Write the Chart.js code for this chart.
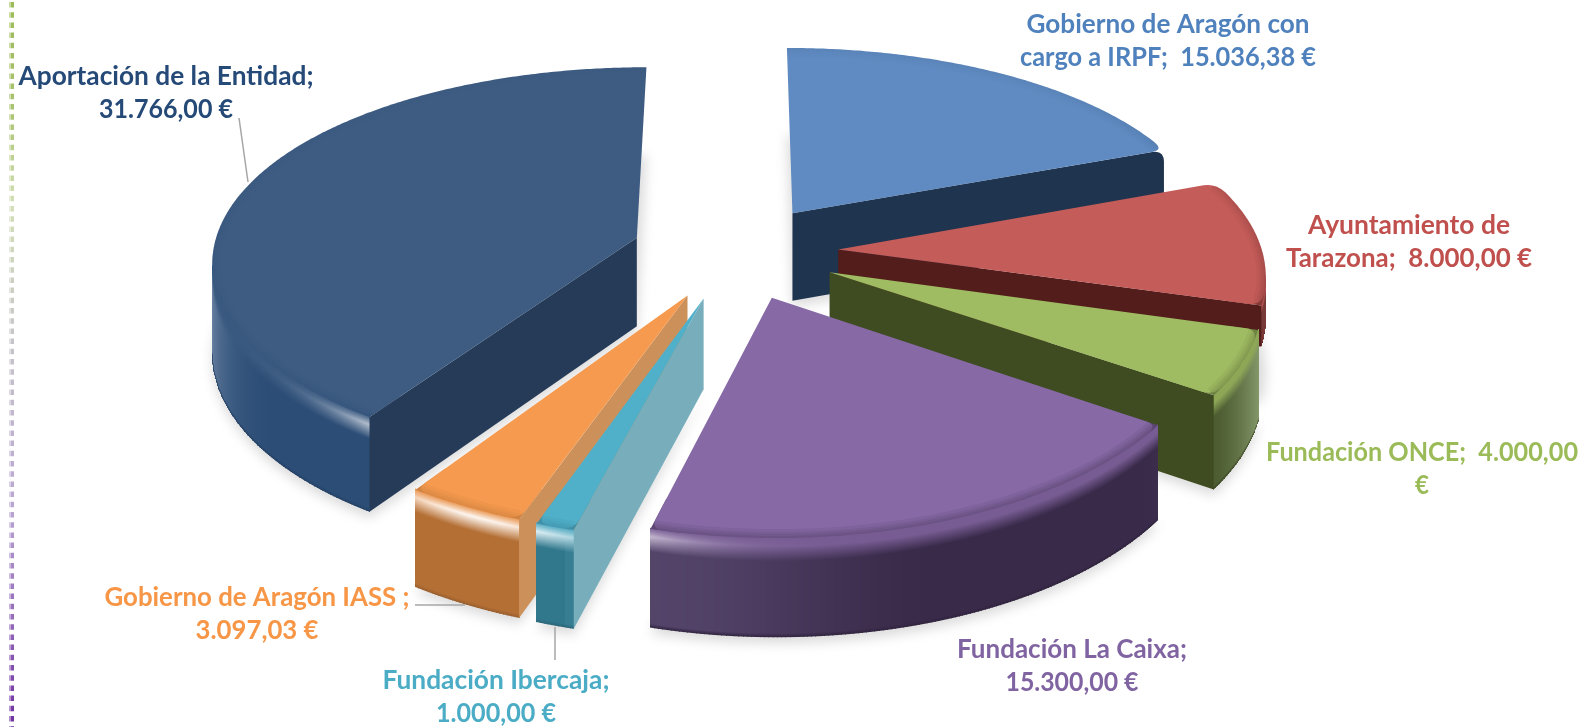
<!DOCTYPE html>
<html>
<head>
<meta charset="utf-8">
<title>Financiación</title>
<script src="https://cdn.jsdelivr.net/npm/chart.js@4"></script>
<style>
  html, body { margin: 0; padding: 0; background: #fff; }
  canvas { display: block; }
</style>
</head>
<body>
<canvas id="myChart" width="1584" height="727"></canvas>
<script>
const categories = ['Gobierno de Aragón con cargo a IRPF', 'Ayuntamiento de Tarazona', 'Fundación ONCE', 'Fundación La Caixa', 'Fundación Ibercaja', 'Gobierno de Aragón IASS', 'Aportación de la Entidad'];
const values = [15036.38, 8000, 4000, 15300, 1000, 3097.03, 31766];
const labelLines = [
  ['Gobierno de Aragón con', 'cargo a IRPF;  15.036,38 €'],
  ['Ayuntamiento de', 'Tarazona;  8.000,00 €'],
  ['Fundación ONCE;  4.000,00', '€'],
  ['Fundación La Caixa;', '15.300,00 €'],
  ['Fundación Ibercaja;', '1.000,00 €'],
  ['Gobierno de Aragón IASS ;', '3.097,03 €'],
  ['Aportación de la Entidad;', '31.766,00 €']
];

// colours per slice
const labelColors = ['#4f81bd', '#c0504d', '#9bbb59', '#8064a2', '#4bacc6', '#f79646', '#254a77'];
const topColors = ['#5f8bc2', '#c45c59', '#a0bc62', '#8669a5', '#50b0ca', '#f59a4e', '#3e5c82'];
const wallColors = ['#1f344f', '#531d1b', '#46552a', '#392a49', '#32788d', '#b46f35', '#2c4d76'];
const wallEdgeColors = ['#1f344f', '#7a3a38', '#8a9e70', '#5a4a72', '#3a8095', '#bd7a3c', '#7d93af'];
const cutColors = ['#1f344f', '#531d1b', '#3f4c21', '#3a2b4b', '#78aebc', '#cc915a', '#263b58'];

// layout
const labelBoxes = [
  { x: 1168, y: 33, widths: [283, 296] },
  { x: 1409, y: 234, widths: [202, 246] },
  { x: 1422, y: 461, widths: [312, 14] },
  { x: 1072, y: 658, widths: [230, 133] },
  { x: 496, y: 689, widths: [227, 120] },
  { x: 257, y: 606, widths: [305, 123] },
  { x: 166, y: 85, widths: [295, 134] }
];
const leaders = [[239, 118, 248, 182], [415, 605, 465, 605], [555, 627, 555, 660]];
const drawOrder = [0, 6, 1, 2, 3, 5, 4];
const depthShare = [1, 0.45, 1, 1, 1, 1, 1];
const view = { cx: 735, cy: 251.5, rx: 424, ry: 196, k: 0.13, depth: 89, corner: 12 };

function project(u, v) {
  const w = 1 / (1 - view.k * v);
  return {
    x: view.cx + view.rx * u * Math.pow(w, 0.85),
    y: view.cy + view.ry * v * w,
    d: view.depth * (1 + (w - 1) * 0.6)
  };
}

function rgbOf(c) {
  const p = parseInt(c.slice(1), 16);
  return [p >> 16, (p >> 8) & 255, p & 255];
}

function mix(a, b, t) {
  const pa = rgbOf(a), pb = rgbOf(b);
  return '#' + pa.map((v, n) => Math.round(v + (pb[n] - v) * t).toString(16).padStart(2, '0')).join('');
}

function smooth(t) {
  const x = Math.min(1, Math.max(0, t));
  return x * x * (3 - 2 * x);
}

function dist(a, b) {
  return Math.hypot(a.x - b.x, a.y - b.y);
}

function towards(from, to, len) {
  const t = len / dist(from, to);
  return { x: from.x + (to.x - from.x) * t, y: from.y + (to.y - from.y) * t };
}

// the 12 o'clock cut stays sharp in the picture
function isNorth(p) {
  return Math.abs(Math.sin(p.angle) + 1) < 0.0001;
}

// geometry of one slice, read from the arc element chart.js laid out
function sliceShape(arc) {
  const e = arc.options.offset / arc.outerRadius;
  const mid = (arc.startAngle + arc.endAngle) / 2;
  const ou = Math.cos(mid) * e, ov = Math.sin(mid) * e;
  const steps = Math.max(8, Math.ceil((arc.endAngle - arc.startAngle) * 360 / Math.PI));
  const rim = [];
  let len = 0;
  for (let i = 0; i <= steps; i++) {
    const a = arc.startAngle + (arc.endAngle - arc.startAngle) * i / steps;
    const p = project(ou + Math.cos(a), ov + Math.sin(a));
    p.angle = a;
    if (i > 0) len += dist(p, rim[i - 1]);
    rim.push(p);
  }
  const last = rim.length - 1;
  return {
    apex: project(ou, ov),
    rim: rim,
    inner: rim[Math.floor(steps / 2)],
    corner: Math.min(view.corner, len / 3),
    // does the wall reach this end of the rim
    startFront: rim[1].x < rim[0].x,
    endFront: rim[last].x < rim[last - 1].x
  };
}

function traceFull(ctx, shape) {
  ctx.beginPath();
  ctx.moveTo(shape.apex.x, shape.apex.y);
  shape.rim.forEach(p => ctx.lineTo(p.x, p.y));
  ctx.closePath();
}

function traceTop(ctx, shape) {
  const rim = shape.rim, r = shape.corner, last = rim.length - 1;
  let from = 0, to = last;
  ctx.beginPath();
  ctx.moveTo(shape.apex.x, shape.apex.y);
  if (isNorth(rim[0])) {
    ctx.lineTo(rim[0].x, rim[0].y);
  } else {
    const e1 = towards(rim[0], shape.apex, r);
    while (dist(rim[from], rim[0]) < r) from++;
    ctx.lineTo(e1.x, e1.y);
    ctx.quadraticCurveTo(rim[0].x, rim[0].y, rim[from].x, rim[from].y);
  }
  if (!isNorth(rim[last])) {
    while (dist(rim[to], rim[last]) < r) to--;
  }
  for (let n = from + 1; n <= to; n++) ctx.lineTo(rim[n].x, rim[n].y);
  if (!isNorth(rim[last])) {
    const e2 = towards(rim[last], shape.apex, r);
    ctx.quadraticCurveTo(rim[last].x, rim[last].y, e2.x, e2.y);
  }
  ctx.closePath();
}

function drawShadow(ctx, shape) {
  ctx.save();
  ctx.filter = 'blur(6px)';
  ctx.fillStyle = 'rgba(0,0,0,0.14)';
  ctx.translate(0, 6);
  ctx.beginPath();
  ctx.moveTo(shape.apex.x, shape.apex.y + shape.apex.d);
  shape.rim.forEach(p => ctx.lineTo(p.x, p.y + p.d));
  ctx.closePath();
  ctx.fill();
  ctx.restore();
}

// one pixel column at a time, the rim runs right to left at the front
function drawWall(ctx, shape, i) {
  for (let s = 0; s < shape.rim.length - 1; s++) {
    const a = shape.rim[s], b = shape.rim[s + 1];
    if (b.x >= a.x) continue;
    for (let x = Math.floor(a.x); x >= Math.ceil(b.x) - 1; x--) {
      const t = Math.min(1, Math.max(0, (a.x - x - 0.5) / (a.x - b.x)));
      const y = a.y + (b.y - a.y) * t;
      const d = (a.d + (b.d - a.d) * t) * depthShare[i];
      const deg = ((a.angle + (b.angle - a.angle) * t + Math.PI / 2) * 180 / Math.PI + 360) % 360;
      // walls get lighter towards the sides, the shine sits front left
      let side = Math.max(smooth((deg - 232) / 45), smooth((130 - deg) / 30));
      if (deg < 196) side = Math.max(side, smooth((deg - 160) / 35) * 0.8);
      const shine = Math.exp(-Math.pow((deg - 205) / 14, 2));
      const wall = mix(wallColors[i], wallEdgeColors[i], side);
      const bevel = mix(topColors[i], wallColors[i], 0.2);
      const g = ctx.createLinearGradient(0, y - 1, 0, y + d);
      g.addColorStop(0, mix(topColors[i], wallColors[i], 0.2));
      g.addColorStop(0.09, mix(bevel, '#ffffff', shine * 0.92));
      g.addColorStop(0.24, wall);
      g.addColorStop(0.96, wall);
      g.addColorStop(1, mix(wallColors[i], '#000000', 0.15));
      ctx.fillStyle = g;
      ctx.fillRect(x, y - 1, 1, d + 1);
    }
  }
}

function drawCut(ctx, shape, end, front, i) {
  const apex = shape.apex;
  const ex = end.x - apex.x, ey = end.y - apex.y;
  const side = ex * (shape.inner.y - apex.y) - ey * (shape.inner.x - apex.x);
  // only the faces turned to the viewer, the nearly upright ones do not show
  if (ex * side >= 0 || Math.abs(ex) < 0.2 * Math.abs(ey)) return;
  const r = shape.corner;
  const e1 = towards(end, apex, r);
  ctx.fillStyle = cutColors[i];
  ctx.beginPath();
  ctx.moveTo(apex.x, apex.y);
  if (front) {
    ctx.lineTo(end.x, end.y);
  } else {
    ctx.lineTo(e1.x, e1.y);
    ctx.quadraticCurveTo(end.x, end.y, end.x, end.y + r);
  }
  ctx.lineTo(end.x, end.y + end.d * depthShare[i]);
  ctx.lineTo(apex.x, apex.y + apex.d);
  ctx.closePath();
  ctx.fill();
}

function drawTop(ctx, shape, i) {
  ctx.save();
  // corners over a wall show the bevel, not the page
  if (shape.startFront || shape.endFront) {
    ctx.save();
    ctx.beginPath();
    if (shape.startFront) ctx.rect(shape.rim[0].x - 30, shape.rim[0].y - 30, 60, 60);
    if (shape.endFront) ctx.rect(shape.rim[shape.rim.length - 1].x - 30, shape.rim[shape.rim.length - 1].y - 30, 60, 60);
    ctx.clip();
    ctx.fillStyle = mix(topColors[i], wallColors[i], 0.55);
    traceFull(ctx, shape);
    ctx.fill();
    ctx.restore();
  }
  ctx.fillStyle = topColors[i];
  traceTop(ctx, shape);
  ctx.fill();
  ctx.clip();
  // soft bevel along the rim, stronger at the front
  const c = rgbOf(wallColors[i]).join(',');
  const g = ctx.createLinearGradient(0, 100, 0, 420);
  g.addColorStop(0, `rgba(${c},0.02)`);
  g.addColorStop(1, `rgba(${c},0.1)`);
  ctx.strokeStyle = g;
  [18, 12, 8, 4].forEach(w => {
    ctx.lineWidth = w;
    ctx.beginPath();
    shape.rim.forEach((p, n) => { if (n === 0) ctx.moveTo(p.x, p.y); else ctx.lineTo(p.x, p.y); });
    ctx.stroke();
  });
  ctx.restore();
}

function drawSideRule(ctx) {
  const g = ctx.createLinearGradient(0, 0, 0, 727);
  g.addColorStop(0, '#9bbb59');
  g.addColorStop(0.15, '#a9c370');
  g.addColorStop(0.28, '#d3dfb6');
  g.addColorStop(0.45, '#c8c8c8');
  g.addColorStop(0.7, '#b9a5d3');
  g.addColorStop(1, '#7030a0');
  ctx.save();
  ctx.strokeStyle = g;
  ctx.setLineDash([5.5, 4.7]);
  ctx.lineWidth = 3;
  ctx.beginPath();
  ctx.moveTo(12.5, 2);
  ctx.lineTo(12.5, 727);
  ctx.stroke();
  ctx.globalAlpha = 0.55;
  ctx.lineWidth = 2;
  ctx.beginPath();
  ctx.moveTo(10, 2);
  ctx.lineTo(10, 727);
  ctx.stroke();
  ctx.restore();
}

const pie3d = {
  id: 'pie3d',
  // the flat arcs are replaced by the projected ones
  beforeDatasetsDraw(chart) {
    const ctx = chart.ctx;
    const shapes = chart.getDatasetMeta(0).data.map(sliceShape);
    drawSideRule(ctx);
    drawOrder.forEach(i => drawShadow(ctx, shapes[i]));
    drawOrder.forEach(i => {
      const shape = shapes[i];
      drawWall(ctx, shape, i);
      drawCut(ctx, shape, shape.rim[0], shape.startFront, i);
      drawCut(ctx, shape, shape.rim[shape.rim.length - 1], shape.endFront, i);
      drawTop(ctx, shape, i);
    });
    return false;
  },
  afterDraw(chart) {
    const ctx = chart.ctx;
    ctx.save();
    ctx.strokeStyle = '#a6a6a6';
    ctx.lineWidth = 1.5;
    leaders.forEach(l => {
      ctx.beginPath();
      ctx.moveTo(l[0], l[1]);
      ctx.lineTo(l[2], l[3]);
      ctx.stroke();
    });
    ctx.font = 'bold 26.5px Lato';
    ctx.textAlign = 'center';
    ctx.textBaseline = 'alphabetic';
    labelLines.forEach((lines, i) => {
      const box = labelBoxes[i];
      ctx.fillStyle = labelColors[i];
      lines.forEach((t, n) => ctx.fillText(t, box.x, box.y + n * 33, box.widths[n]));
    });
    ctx.restore();
  }
};

new Chart(document.getElementById('myChart'), {
  type: 'pie',
  data: {
    labels: categories,
    datasets: [{ data: values, backgroundColor: topColors, borderWidth: 0, offset: 79 }]
  },
  options: {
    responsive: false,
    animation: false,
    layout: { padding: 0 },
    plugins: { legend: { display: false }, tooltip: { enabled: false } }
  },
  plugins: [pie3d]
});
</script>
</body>
</html>
